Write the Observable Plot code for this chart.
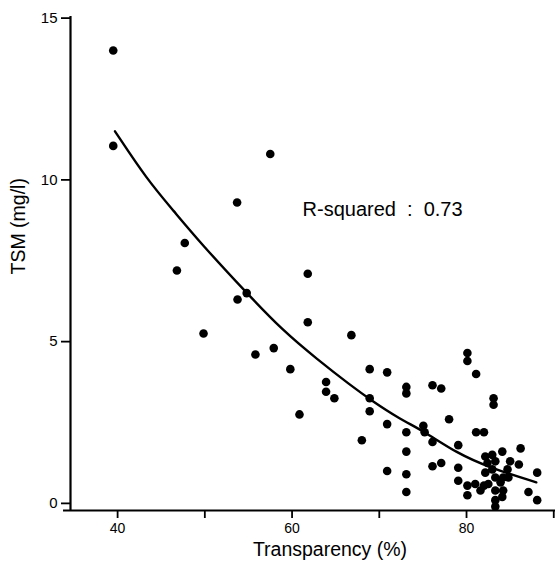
<!DOCTYPE html>
<html>
<head>
<meta charset="utf-8">
<script src="https://cdn.jsdelivr.net/npm/d3@7"></script>
<script src="https://cdn.jsdelivr.net/npm/@observablehq/plot@0.6"></script>
<style>
  body { margin: 0; background: white; }
</style>
</head>
<body>
<div id="chart"></div>
<script>
// Observations: Transparency (%) and TSM (mg/l)
const transparency = [
  39.5, 39.5, 47.7, 46.8, 49.85, 54.8, 53.75, 55.8, 57.9, 59.8,
  57.5, 53.7, 61.8, 61.8, 66.8, 60.85, 63.9, 63.9, 64.85, 68.9,
  70.9, 68.9, 68.9, 70.9, 68.0, 70.9, 73.1, 73.1, 73.1, 75.05,
  75.2, 73.1, 73.1, 73.1, 76.1, 77.1, 80.1, 80.1, 81.1, 83.1,
  83.1, 78.0, 81.1, 82.0, 76.1, 79.05, 76.1, 77.1, 86.2, 84.1,
  85.0, 86.0, 88.1, 79.05, 79.05, 80.1, 81.0, 80.1, 82.0, 87.1,
  88.1, 82.15, 82.95, 83.3, 82.4, 82.95, 82.15, 83.3, 84.2, 83.9,
  84.2, 83.3, 83.3, 83.3, 84.1, 82.5, 81.6, 84.8, 84.7
];
const tsm = [
  14.0, 11.05, 8.05, 7.2, 5.25, 6.5, 6.3, 4.6, 4.8, 4.15,
  10.8, 9.3, 7.1, 5.6, 5.2, 2.75, 3.75, 3.45, 3.25, 4.15,
  4.05, 3.25, 2.85, 2.45, 1.95, 1.0, 3.6, 3.4, 2.2, 2.4,
  2.2, 1.6, 0.9, 0.35, 3.65, 3.55, 4.65, 4.4, 4.0, 3.25,
  3.05, 2.6, 2.2, 2.2, 1.9, 1.8, 1.15, 1.25, 1.7, 1.6,
  1.3, 1.2, 0.95, 1.1, 0.7, 0.55, 0.6, 0.25, 0.55, 0.35,
  0.1, 1.45, 1.5, 1.3, 1.25, 1.05, 0.95, 0.8, 0.8, 0.65,
  0.4, 0.4, 0.1, -0.1, 0.2, 0.6, 0.4, 0.8, 1.05
];

// Fitted curve
const fitX = [39.7, 43.4, 46.4, 49.5, 54.8, 58.9, 62.9, 66.7, 69.0, 72.4, 75.0, 78.9, 82.7, 88.0];
const fitY = [11.5, 10.0, 9.05, 8.05, 6.5, 5.35, 4.45, 3.65, 3.2, 2.6, 2.25, 1.55, 1.1, 0.65];

const xTicks = [40, 50, 60, 70, 80, 90];
const xTickLabels = [40, 60, 80];
const yTicks = [0, 5, 10, 15];

const xTitle = "Transparency (%)";
const yTitle = "TSM (mg/l)";
const note = "R-squared\u00a0\u00a0:\u00a0\u00a00.73";

const points = transparency.map((x, i) => ({x, y: tsm[i]}));
const fit = fitX.map((x, i) => ({x, y: fitY[i]}));

const xMin = 34.6, xMax = 90.2, yMin = -0.22, yMax = 15.05;

const chart = Plot.plot({
  width: 555,
  height: 573,
  marginTop: 16,
  marginBottom: 63,
  marginLeft: 70,
  marginRight: 0,
  style: {fontFamily: "'Liberation Sans', Arial, sans-serif", color: "black", background: "white"},
  x: {domain: [xMin, xMax]},
  y: {domain: [yMin, yMax]},
  marks: [
    Plot.axisX({ticks: xTicks, tickSize: 8, tickPadding: 5, strokeWidth: 1.8,
      tickFormat: d => xTickLabels.includes(d) ? String(d) : "", fontSize: 14, label: null}),
    Plot.axisY({ticks: yTicks, tickSize: 9, tickPadding: 4, strokeWidth: 1.8,
      fontSize: 15, label: null}),
    Plot.ruleY([yMin], {x1: 33.8, x2: xMax, stroke: "black", strokeWidth: 2.2}),
    Plot.ruleX([xMin], {y1: yMin, y2: yMax, stroke: "black", strokeWidth: 2.2}),
    Plot.line(fit, {x: "x", y: "y", curve: "basis", stroke: "black", strokeWidth: 2.4}),
    Plot.dot(points, {x: "x", y: "y", r: 4.3, fill: "black", stroke: "none"}),
    Plot.text([note], {x: 61.2, y: 9.08, text: d => d, textAnchor: "start", fontSize: 20, fill: "black"}),
    Plot.text([xTitle], {frameAnchor: "bottom", text: d => d, dx: 17, dy: 45, fontSize: 19.5, fill: "black"}),
    Plot.text([yTitle], {frameAnchor: "left", text: d => d, dx: -52, dy: 11, rotate: -90, fontSize: 19.5, fill: "black"})
  ]
});

document.getElementById("chart").appendChild(chart);
</script>
</body>
</html>
